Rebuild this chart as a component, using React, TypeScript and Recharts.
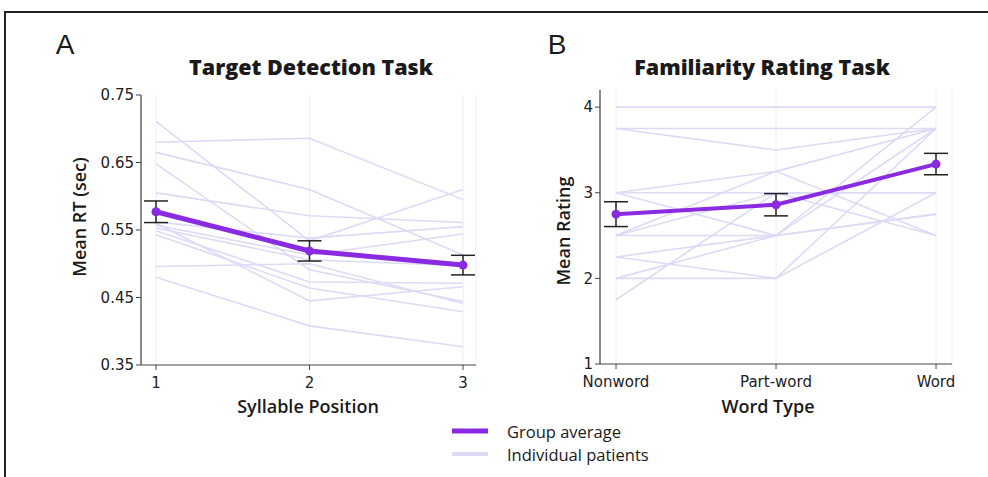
import React from 'react';
import { LineChart, Line, XAxis, YAxis, CartesianGrid, ErrorBar } from 'recharts';

// ---------- Panel A: Target Detection Task ----------
const syllablePositions = ['1', '2', '3'];
const rtTicks = [0.35, 0.45, 0.55, 0.65, 0.75];
const rtGroupMean = [0.577, 0.519, 0.498];
const rtGroupSem = [0.016, 0.015, 0.0145];
const rtPatients = [
  [0.68, 0.686, 0.595],
  [0.711, 0.534, 0.61],
  [0.665, 0.61, 0.513],
  [0.648, 0.491, 0.444],
  [0.605, 0.571, 0.561],
  [0.562, 0.538, 0.555],
  [0.557, 0.513, 0.544],
  [0.553, 0.506, 0.497],
  [0.549, 0.473, 0.471],
  [0.543, 0.464, 0.429],
  [0.56, 0.445, 0.466],
  [0.496, 0.5, 0.441],
  [0.48, 0.408, 0.377],
];

// ---------- Panel B: Familiarity Rating Task ----------
const wordTypes = ['Nonword', 'Part-word', 'Word'];
const ratingTicks = [1, 2, 3, 4];
const ratingGroupMean = [2.75, 2.86, 3.335];
const ratingGroupSem = [0.145, 0.13, 0.125];
const ratingPatients = [
  [4, 4, 4],
  [3.75, 3.75, 3.75],
  [3.75, 3.5, 3.75],
  [3, 3.25, 3.75],
  [2.5, 3.25, 2.5],
  [3, 3, 3],
  [3, 2.5, 2.75],
  [2.5, 3, 2.5],
  [2.5, 2.5, 4],
  [2.25, 2.5, 3.75],
  [2.25, 2, 3],
  [2, 2.5, 2.75],
  [2, 2, 3.75],
  [1.75, 3, 3],
];

const PURPLE = '#8a2be2';
const LAVENDER = '#dddaf6';
const AXIS = '#444';
const TEXT = '#1a1a1a';
const LABEL_FONT = 'Open Sans';
const TICK_FONT = { fontFamily: 'DejaVu Sans', fontSize: 15, fill: '#222' };

function buildRows(cats: string[], mean: number[], sem: number[], patients: number[][]) {
  return cats.map((c, i) => {
    const row: any = { name: c, avg: mean[i], err: sem[i] };
    patients.forEach((p, j) => {
      row['p' + j] = p[i];
    });
    return row;
  });
}

const rowsA = buildRows(syllablePositions, rtGroupMean, rtGroupSem, rtPatients);
const rowsB = buildRows(wordTypes, ratingGroupMean, ratingGroupSem, ratingPatients);

function Panel(props: {
  rows: any[];
  nPatients: number;
  width: number;
  margin: any;
  yWidth: number;
  domain: [number, number];
  ticks: number[];
  fmt: (v: number) => string;
  pad: { left: number; right: number };
  avgWidth: number;
  dotR: number;
}) {
  const { rows, nPatients, width, margin, yWidth, domain, ticks, fmt, pad, avgWidth, dotR } = props;
  return (
    <LineChart width={width} height={477} data={rows} margin={margin}>
      <CartesianGrid horizontal={false} vertical stroke="#ededf6" strokeWidth={1} />
      <XAxis
        dataKey="name"
        padding={pad}
        tick={TICK_FONT}
        tickLine={{ stroke: AXIS }}
        tickSize={5}
        tickMargin={7}
        axisLine={{ stroke: AXIS, strokeWidth: 1.2 }}
        height={30}
        interval={0}
      />
      <XAxis
        xAxisId="top"
        orientation="top"
        dataKey="name"
        padding={pad}
        tick={false}
        tickLine={false}
        axisLine={{ stroke: AXIS, strokeWidth: 1.2 }}
        height={0}
      />
      <YAxis
        type="number"
        domain={domain}
        ticks={ticks}
        tickFormatter={fmt}
        tick={TICK_FONT}
        tickLine={{ stroke: AXIS }}
        tickSize={5}
        axisLine={{ stroke: AXIS, strokeWidth: 1.2 }}
        width={yWidth}
        allowDataOverflow
      />
      <YAxis
        yAxisId="right"
        orientation="right"
        type="number"
        domain={domain}
        tick={false}
        tickLine={false}
        axisLine={{ stroke: AXIS, strokeWidth: 1.2 }}
        width={0}
      />
      {Array.from({ length: nPatients }).map((_, j) => (
        <Line
          key={j}
          dataKey={'p' + j}
          stroke={LAVENDER}
          strokeWidth={1.6}
          dot={false}
          activeDot={false}
          isAnimationActive={false}
        />
      ))}
      <Line
        dataKey="avg"
        stroke={PURPLE}
        strokeWidth={avgWidth}
        dot={{ r: dotR, fill: PURPLE, stroke: PURPLE, strokeWidth: 0 }}
        activeDot={false}
        isAnimationActive={false}
      >
        <ErrorBar dataKey="err" width={12} stroke="#222" strokeWidth={1.5} direction="y" />
      </Line>
    </LineChart>
  );
}

export default function App() {
  return (
    <div
      style={{
        position: 'absolute',
        left: 0,
        top: 0,
        width: 988,
        height: 477,
        background: '#fff',
        overflow: 'hidden',
      }}
    >
      {/* frame lines */}
      <div style={{ position: 'absolute', left: 4, top: 11, width: 984, height: 2, background: '#222' }} />
      <div style={{ position: 'absolute', left: 4, top: 11, width: 2, height: 466, background: '#222' }} />

      <div style={{ position: 'absolute', left: 0, top: 0 }}>
        <Panel
          rows={rowsA}
          nPatients={rtPatients.length}
          width={500}
          margin={{ top: 95, right: 24, bottom: 82, left: 81 }}
          yWidth={60}
          domain={[0.35, 0.75]}
          ticks={rtTicks}
          fmt={(v) => v.toFixed(2)}
          pad={{ left: 15, right: 13 }}
          avgWidth={5}
          dotR={4.5}
        />
      </div>
      <div style={{ position: 'absolute', left: 490, top: 0 }}>
        <Panel
          rows={rowsB}
          nPatients={ratingPatients.length}
          width={498}
          margin={{ top: 90, right: 36, bottom: 83, left: 50 }}
          yWidth={60}
          domain={[1, 4.2]}
          ticks={ratingTicks}
          fmt={(v) => String(v)}
          pad={{ left: 16, right: 16 }}
          avgWidth={4}
          dotR={4.5}
        />
      </div>

      <svg
        width={988}
        height={477}
        style={{ position: 'absolute', left: 0, top: 0, pointerEvents: 'none' }}
      >
        <text x={65} y={44} textAnchor="middle" dominantBaseline="central" fontFamily="Liberation Sans" fontSize={28} fill={TEXT}>
          A
        </text>
        <text x={557} y={44} textAnchor="middle" dominantBaseline="central" fontFamily="Liberation Sans" fontSize={28} fill={TEXT}>
          B
        </text>
        <text x={311} y={66} textAnchor="middle" dominantBaseline="central" fontFamily={LABEL_FONT} fontWeight={800} fontSize={21.5} fill={TEXT}>
          Target Detection Task
        </text>
        <text x={762} y={66} textAnchor="middle" dominantBaseline="central" fontFamily={LABEL_FONT} fontWeight={800} fontSize={21.5} fill={TEXT}>
          Familiarity Rating Task
        </text>
        <text
          x={79}
          y={217}
          textAnchor="middle"
          dominantBaseline="central"
          fontFamily={LABEL_FONT}
          fontWeight={600}
          fontSize={18}
          fill={TEXT}
          transform="rotate(-90 79 217)"
        >
          Mean RT (sec)
        </text>
        <text
          x={563}
          y={231}
          textAnchor="middle"
          dominantBaseline="central"
          fontFamily={LABEL_FONT}
          fontWeight={600}
          fontSize={18}
          fill={TEXT}
          transform="rotate(-90 563 231)"
        >
          Mean Rating
        </text>
        <text x={308} y={406} textAnchor="middle" dominantBaseline="central" fontFamily={LABEL_FONT} fontWeight={600} fontSize={18} fill={TEXT}>
          Syllable Position
        </text>
        <text x={768} y={406} textAnchor="middle" dominantBaseline="central" fontFamily={LABEL_FONT} fontWeight={600} fontSize={18} fill={TEXT}>
          Word Type
        </text>
        <line x1={452} x2={488} y1={431} y2={431} stroke={PURPLE} strokeWidth={5} />
        <line x1={452} x2={488} y1={454} y2={454} stroke={LAVENDER} strokeWidth={4} />
        <text x={507} y={431} dominantBaseline="central" fontFamily={LABEL_FONT} fontWeight={500} fontSize={16.5} fill={TEXT}>
          Group average
        </text>
        <text x={507} y={454} dominantBaseline="central" fontFamily={LABEL_FONT} fontWeight={500} fontSize={16.5} fill={TEXT}>
          Individual patients
        </text>
      </svg>
    </div>
  );
}
